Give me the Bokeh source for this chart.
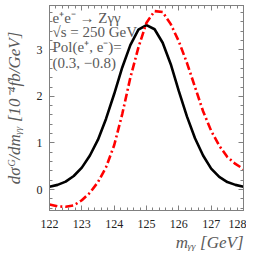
from bokeh.plotting import figure
from bokeh.models import Range1d, LinearAxis, Label, FixedTicker, Title, CustomJSTickFormatter
from bokeh.embed import file_html
from bokeh.resources import INLINE

m_gg = [122.0, 122.25, 122.5, 122.75, 123.0, 123.25, 123.5, 123.75, 124.0, 124.25,
        124.5, 124.75, 125.0, 125.25, 125.5, 125.75, 126.0, 126.25, 126.5, 126.75,
        127.0, 127.25, 127.5, 127.75, 128.0]
sm_curve = [0.06, 0.10, 0.17, 0.29, 0.47, 0.73, 1.07, 1.52, 2.05, 2.62,
            3.10, 3.43, 3.53, 3.44, 3.15, 2.69, 2.11, 1.57, 1.10, 0.73,
            0.45, 0.27, 0.16, 0.10, 0.06]
int_curve = [-0.32, -0.36, -0.37, -0.34, -0.23, -0.07, 0.16, 0.48, 0.95, 1.62,
             2.40, 3.05, 3.58, 3.83, 3.81, 3.55, 3.18, 2.72, 2.20, 1.68,
             1.26, 0.94, 0.70, 0.55, 0.44]
x_ticks = [122, 123, 124, 125, 126, 127, 128]
y_ticks = [0, 1, 2, 3]
annot = ["e⁺e⁻ → Zγγ", "√s = 250 GeV", "Pol(e⁺, e⁻)=", "(0.3, −0.8)"]
y_title = "dσᴳ/dmᵧᵧ [10⁻⁴fb/GeV]"
x_title = "mᵧᵧ [GeV]"

FONT = "Liberation Serif"
GRAY = "#5a5a5a"
AX = "#808080"

p = figure(width=246, height=252, output_backend="svg", toolbar_location=None,
           x_range=Range1d(122, 128), y_range=Range1d(-0.45, 3.95),
           min_border_left=49, min_border_right=3, min_border_top=5, min_border_bottom=42)
p.xgrid.visible = False
p.ygrid.visible = False
p.outline_line_color = AX

p.line(m_gg, sm_curve, line_color="black", line_width=2.6)
p.line(m_gg, int_curve, line_color="#ff0000", line_width=2.6, line_dash="8 3 2 3")

def style_axis(ax, labels=True):
    ax.major_tick_in = 5
    ax.major_tick_out = 0
    ax.minor_tick_in = 3
    ax.minor_tick_out = 0
    ax.axis_line_color = AX
    ax.major_tick_line_color = AX
    ax.minor_tick_line_color = AX
    ax.major_label_text_font = FONT
    ax.major_label_text_font_size = "12px"
    ax.major_label_text_color = "#222222"
    if not labels:
        ax.formatter = CustomJSTickFormatter(code="return ''")
        ax.major_label_standoff = 0
        ax.axis_label_standoff = 0

xt = FixedTicker(ticks=x_ticks, minor_ticks=[122 + i * 0.2 for i in range(31)])
yt = FixedTicker(ticks=y_ticks, minor_ticks=[-0.4 + i * 0.2 for i in range(22)])

p.xaxis.ticker = xt
p.yaxis.ticker = yt
style_axis(p.xaxis[0])
style_axis(p.yaxis[0])
p.xaxis.major_label_standoff = 9
p.yaxis.major_label_standoff = 7

ra = LinearAxis(ticker=yt)
style_axis(ra, labels=False)
p.add_layout(ra, "right")
ta = LinearAxis(ticker=xt)
style_axis(ta, labels=False)
p.add_layout(ta, "above")

ya = p.yaxis[0]
ya.axis_label = y_title
ya.axis_label_text_font = FONT
ya.axis_label_text_font_style = "italic"
ya.axis_label_text_font_size = "17px"
ya.axis_label_text_color = GRAY
ya.axis_label_standoff = 10

p.add_layout(Title(text=x_title, align="right", text_font=FONT, text_font_style="italic",
                   text_font_size="17px", text_color=GRAY, standoff=0, offset=0), "below")

for t, yy in zip(annot, [193, 179, 164, 148]):
    p.add_layout(Label(x=3, y=yy, x_units="screen", y_units="screen", text=t,
                       text_font=FONT, text_font_size="15px", text_color=GRAY,
                       text_align="left", text_baseline="middle"))

open("out.html", "w").write(file_html(p, INLINE))
